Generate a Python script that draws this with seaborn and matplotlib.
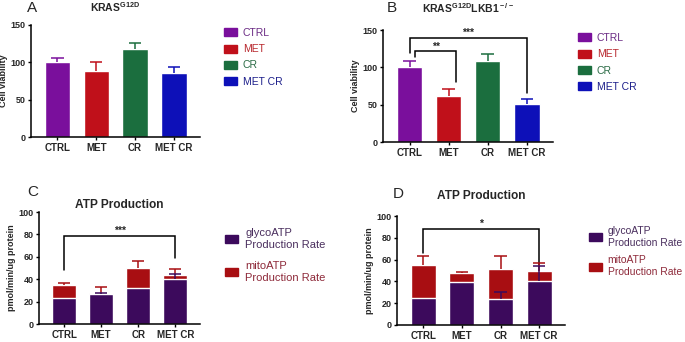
import numpy as np
import pandas as pd
import seaborn as sns
import matplotlib
matplotlib.use("Agg")
import matplotlib.pyplot as plt
from matplotlib.patches import Patch

# ---------------- data ----------------
groups = ["CTRL", "MET", "CR", "MET CR"]

# Panel A: KRAS G12D cell viability
a_mean = [100, 89, 118, 86]
a_err = [6, 11, 8, 8]

# Panel B: KRAS G12D LKB1-/- cell viability
b_mean = [100, 62, 108, 51]
b_err = [9, 9, 10, 6]

# Panel C: ATP production (stacked)
c_glyco = [23.5, 26.5, 32, 40]
c_mito = [11.5, 1.5, 18, 3.5]
c_total_err = [2, 5, 6.5, 6]
c_glyco_err = [0, 1.5, 0, 5]

# Panel D: ATP production (stacked)
d_glyco = [25, 39, 23.7, 40]
d_mito = [30, 8.4, 28, 10]
d_total_err = [8.5, 1.6, 11.7, 7]
d_glyco_err = [0, 0, 7, 14]

legend_ab = ["CTRL", "MET", "CR", "MET CR"]
legend_cd = ["glycoATP\nProduction Rate", "mitoATP\nProduction Rate"]

# ---------------- style ----------------
sns.set_style("ticks")
plt.rcParams["font.family"] = ["Liberation Sans", "DejaVu Sans"]
plt.rcParams["mathtext.fontset"] = "custom"
plt.rcParams["mathtext.rm"] = "Liberation Sans:bold"
plt.rcParams["mathtext.bf"] = "Liberation Sans:bold"
plt.rcParams["mathtext.it"] = "Liberation Sans:bold"

group_colors = ["#7a0f9c", "#c0101a", "#1b6e3e", "#0d10b8"]
glyco_color = "#3c0a5c"
mito_color = "#a80e12"
text_ab = ["#6a2a84", "#b8262c", "#2a6b45", "#1c1e8a"]
text_cd = ["#4a2f5e", "#8e2a3a"]

W, H = 685, 342
fig = plt.figure(figsize=(W / 100, H / 100), dpi=100)


def add_ax(x0, x1, ytop, ybot):
    return fig.add_axes([x0 / W, 1 - ybot / H, (x1 - x0) / W, (ybot - ytop) / H])


def style_ax(ax, ymax, step, ylabel):
    ax.set_ylim(0, ymax)
    ax.set_xlim(-0.68, 3.67)
    ax.set_yticks(np.arange(0, ymax + 1, step))
    ax.set_ylabel(ylabel, fontsize=6.5, fontweight="bold", labelpad=2)
    ax.set_xlabel("")
    for lab in ax.get_xticklabels() + ax.get_yticklabels():
        lab.set_fontweight("bold")
    ax.tick_params(axis="y", labelsize=6.5, length=2.5, width=1.0, pad=1.5, color="black")
    ax.tick_params(axis="x", labelsize=7, length=2.5, width=1.0, pad=1.5, color="black")
    sns.despine(ax=ax)
    for s in ["left", "bottom"]:
        ax.spines[s].set_linewidth(1.1)
        ax.spines[s].set_color("black")


def up_err(ax, top, err, colors, cap=0.16):
    if isinstance(colors, str):
        colors = [colors] * len(top)
    for i, (t, e, c) in enumerate(zip(top, err, colors)):
        if e > 0:
            ax.vlines(i, t, t + e, color=c, lw=1.1, zorder=3)
            ax.hlines(t + e, i - cap, i + cap, color=c, lw=1.1, zorder=3)


def bracket(ax, x0, x1, ytop, yl, yr, label, ys):
    ax.plot([x0, x0, x1, x1], [yl, ytop, ytop, yr], color="black", lw=1.1, clip_on=False,
            solid_joinstyle="miter")
    ax.text((x0 + x1) / 2, ys, label, ha="center", va="center", fontsize=7.5, fontweight="bold")


def legend(ax, handles, labels, colors, anchor, spacing, size):
    lg = ax.legend(handles, labels, loc="upper left", bbox_to_anchor=anchor,
                   bbox_transform=fig.transFigure, frameon=False, fontsize=size,
                   handlelength=1.2, handleheight=0.8, handletextpad=0.6,
                   labelspacing=spacing, borderaxespad=0, borderpad=0)
    for t, c in zip(lg.get_texts(), colors):
        t.set_color(c)
    return lg


# ---------------- Panel A ----------------
axA = add_ax(31, 200, 25, 137)
dfA = pd.DataFrame({"group": groups, "val": a_mean})
sns.barplot(data=dfA, x="group", y="val", hue="group", palette=group_colors,
            width=0.65, ax=axA, legend=False, saturation=1)
up_err(axA, a_mean, a_err, group_colors)
style_ax(axA, 150, 50, "Cell viability")
axA.set_title(r"KRAS$^{\rm G12D}$", fontsize=7.5, fontweight="bold", pad=9)
legend(axA, [Patch(color=c) for c in group_colors], legend_ab, text_ab,
       (224 / W, 1 - 28 / H), 0.6, 7.5)
fig.text(27 / W, 1 - 8 / H, "A", fontsize=11, ha="left", va="center")

# ---------------- Panel B ----------------
axB = add_ax(383, 553, 30, 142)
dfB = pd.DataFrame({"group": groups, "val": b_mean})
sns.barplot(data=dfB, x="group", y="val", hue="group", palette=group_colors,
            width=0.65, ax=axB, legend=False, saturation=1)
up_err(axB, b_mean, b_err, group_colors)
style_ax(axB, 150, 50, "Cell viability")
axB.set_title(r"KRAS$^{\rm G12D}$LKB1$^{\rm -/-}$", fontsize=7.5, fontweight="bold", pad=12)
bracket(axB, 0, 3, 139.5, 119, 65, "***", 146)
bracket(axB, 0.15, 1.2, 122, 114, 80, "**", 128)
legend(axB, [Patch(color=c) for c in group_colors], legend_ab, text_ab,
       (578 / W, 1 - 33 / H), 0.6, 7.5)
fig.text(387 / W, 1 - 8 / H, "B", fontsize=11, ha="left", va="center")

# ---------------- Panel C ----------------
axC = add_ax(39, 200, 212, 324)
c_total = list(np.add(c_glyco, c_mito))
dfC = pd.DataFrame({"group": groups, "glyco": c_glyco, "total": c_total})
sns.barplot(data=dfC, x="group", y="total", color=mito_color, width=0.65, ax=axC, saturation=1)
sns.barplot(data=dfC, x="group", y="glyco", color=glyco_color, width=0.65, ax=axC, saturation=1)
up_err(axC, c_total, c_total_err, mito_color)
up_err(axC, c_glyco, c_glyco_err, glyco_color)
style_ax(axC, 100, 20, "pmol/min/ug protein")
axC.set_title("ATP Production", fontsize=8.6, fontweight="bold", pad=3)
bracket(axC, 0, 3, 79, 48, 59, "***", 83)
legend(axC, [Patch(color=glyco_color), Patch(color=mito_color)], legend_cd, text_cd,
       (225 / W, 1 - 228 / H), 1.05, 8)
fig.text(27 / W, 1 - 192 / H, "C", fontsize=11, ha="left", va="center")

# ---------------- Panel D ----------------
axD = add_ax(397, 565, 216, 325)
d_total = list(np.add(d_glyco, d_mito))
dfD = pd.DataFrame({"group": groups, "glyco": d_glyco, "total": d_total})
sns.barplot(data=dfD, x="group", y="total", color=mito_color, width=0.65, ax=axD, saturation=1)
sns.barplot(data=dfD, x="group", y="glyco", color=glyco_color, width=0.65, ax=axD, saturation=1)
up_err(axD, d_total, d_total_err, mito_color)
up_err(axD, d_glyco, d_glyco_err, glyco_color)
style_ax(axD, 100, 20, "pmol/min/ug protein")
axD.set_title("ATP Production", fontsize=8.6, fontweight="bold", pad=12)
bracket(axD, 0, 3, 88, 66, 55, "*", 93)
legend(axD, [Patch(color=glyco_color), Patch(color=mito_color)], legend_cd, text_cd,
       (589 / W, 1 - 226 / H), 0.75, 7.5)
fig.text(393 / W, 1 - 194 / H, "D", fontsize=11, ha="left", va="center")

fig.savefig("out.png", dpi=100, facecolor="white")
